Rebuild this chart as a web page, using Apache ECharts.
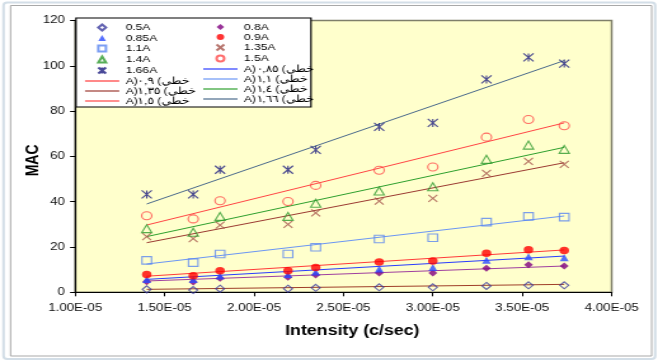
<!DOCTYPE html>
<html>
<head>
<meta charset="utf-8">
<script src="https://cdn.jsdelivr.net/npm/echarts@6/dist/echarts.min.js"></script>
<style>
  html, body { margin: 0; padding: 0; background: #fff; overflow: hidden; }
  #wrap { width: 658px; height: 362px; overflow: hidden; }
  /* the chart is laid out narrow and widened to the full frame */
  #chart { width: 518px; height: 362px; transform: scaleX(1.27027); transform-origin: 0 0; }
</style>
</head>
<body>
<div id="wrap"><div id="chart"></div></div>
<script>
// Intensity readings (c/sec) shared by every current setting
const intensity = [1.40e-5, 1.66e-5, 1.81e-5, 2.19e-5, 2.345e-5, 2.70e-5, 3.00e-5, 3.30e-5, 3.535e-5, 3.735e-5];

// MAC values per tube current
const mac05  = [1.3, 1.0, 1.6, 1.6, 2.0, 2.2, 2.2, 2.8, 3.1, 3.1];
const mac08  = [4.7, 4.6, 6.2, 6.6, 7.6, 8.5, 8.5, 10.6, 12.2, 11.6];
const mac085 = [5.7, 5.6, 7.2, 7.9, 9.0, 10.3, 10.9, 14.2, 15.7, 15.3];
const mac09  = [7.9, 7.3, 9.5, 9.5, 11.0, 13.4, 13.8, 17.2, 18.8, 18.5];
const mac11  = [14.1, 13.1, 16.9, 16.9, 19.9, 23.5, 24.1, 31.0, 33.5, 33.2];
const mac135 = [24.6, 23.7, 29.7, 30.0, 35.1, 40.3, 41.5, 52.5, 57.8, 56.5];
const mac14  = [28.1, 26.5, 33.5, 33.5, 39.3, 44.7, 46.6, 58.7, 65.0, 63.1];
const mac15  = [33.8, 32.4, 40.4, 40.1, 47.2, 53.9, 55.3, 68.5, 76.3, 73.5];
const mac166 = [43.2, 43.2, 54.1, 54.1, 62.9, 73.0, 74.8, 94.0, 103.7, 101.0];

// Linear trend lines: value at the first and last intensity
const trendX    = [1.40e-5, 3.735e-5];
const trend05   = [1.3, 3.5];
const trend08   = [5.0, 11.6];
const trend085  = [5.7, 16.0];
const trend09   = [7.1, 18.7];
const trend11   = [12.5, 33.7];
const trend135  = [21.9, 57.2];
const trend14   = [24.6, 64.0];
const trend15   = [29.7, 74.8];
const trend166  = [39.0, 102.3];

// Axis ranges
const xMin = 1.0e-5, xMax = 4.0e-5, xStep = 0.5e-5;
const yMin = 0, yMax = 120, yStep = 20;

const FONT = "'Liberation Sans', Arial, sans-serif";
const LRM = '\u200E';
// "Linear (x A)" label, laid out left to right as it reads on the chart
function linearLabel(digits) {
  return 'A)' + LRM + digits + LRM + ' (' + LRM + 'خطي';
}

const CROSS = 'path://M0,0L10,10M10,0L0,10';
const STAR = 'path://M5,0L5,10M0,0L10,10M10,0L0,10';
const DIAMOND = 'path://M5,0L10,5L5,10L0,5Z';
const TRIANGLE = 'path://M5,0L10,10L0,10Z';
const SQUARE = 'path://M0,0L10,0L10,10L0,10Z';
const LEGEND_LINE = 'path://M0,0L27,0L27,1.2L0,1.2Z';

const markerDefs = [
  { name: '0.5A',  values: mac05,  symbol: 'diamond',  icon: DIAMOND,  size: 7,   filled: false, color: '#3B3B9E' },
  { name: '0.8A',  values: mac08,  symbol: 'diamond',  icon: DIAMOND,  size: 7,   filled: true,  color: '#800080' },
  { name: '0.85A', values: mac085, symbol: 'triangle', icon: TRIANGLE, size: 7,   filled: true,  color: '#2A4BFF' },
  { name: '0.9A',  values: mac09,  symbol: 'circle',   icon: 'circle', size: 7.5, filled: true,  color: '#FF0000' },
  { name: '1.1A',  values: mac11,  symbol: 'rect',     icon: SQUARE,   size: 7.5, filled: false, color: '#5A86F0' },
  { name: '1.35A', values: mac135, symbol: CROSS,      icon: CROSS,    size: 7,   filled: false, color: '#A5524A' },
  { name: '1.4A',  values: mac14,  symbol: 'triangle', icon: TRIANGLE, size: 8,   filled: false, color: '#2E9A2E' },
  { name: '1.5A',  values: mac15,  symbol: 'circle',   icon: 'circle', size: 8,   filled: false, color: '#FF4848' },
  { name: '1.66A', values: mac166, symbol: STAR,       icon: STAR,     size: 8,   filled: false, color: '#1C1C80' }
];

const trendDefs = [
  { name: 'trend-0.5',        values: trend05,  color: '#A0402A' },
  { name: 'trend-0.8',        values: trend08,  color: '#A040A0' },
  { name: linearLabel('٠,٨٥'), values: trend085, color: '#2A3CFF' },
  { name: linearLabel('٠,٩'),  values: trend09,  color: '#FF3A3A' },
  { name: linearLabel('١,١'),  values: trend11,  color: '#6B96F5' },
  { name: linearLabel('١,٣٥'), values: trend135, color: '#9C3A32' },
  { name: linearLabel('١,٤'),  values: trend14,  color: '#2EA02E' },
  { name: linearLabel('١,٥'),  values: trend15,  color: '#FF4545' },
  { name: linearLabel('١,٦٦'), values: trend166, color: '#4B6A8C' }
];

const series = [];
trendDefs.forEach(t => {
  series.push({
    type: 'line',
    name: t.name,
    data: trendX.map((x, i) => [x, t.values[i]]),
    symbol: 'none',
    silent: true,
    z: 2,
    lineStyle: { color: t.color, width: 1 },
    itemStyle: { color: t.color }
  });
});
markerDefs.forEach(m => {
  series.push({
    type: 'scatter',
    name: m.name,
    data: intensity.map((x, i) => [x, m.values[i]]),
    symbol: m.symbol,
    symbolSize: m.size,
    z: 3,
    itemStyle: m.filled
      ? { color: m.color, borderWidth: 0 }
      : { color: 'none', borderColor: m.color, borderWidth: 1.1 }
  });
});

// legend entries: markers keep their shape, trend lines get a thin bar
function legendItems(names) {
  return names.map(n => {
    const m = markerDefs.find(d => d.name === n);
    return { name: n, icon: m ? m.icon : LEGEND_LINE };
  });
}

const legendText = { fontSize: 9.5, lineHeight: 10, color: '#000', fontFamily: FONT };
const legendCommon = {
  orient: 'vertical', padding: 0, itemGap: 0, itemWidth: 27, itemHeight: 6,
  symbolKeepAspect: true, selectedMode: false, textStyle: legendText, z: 10
};

const chart = echarts.init(document.getElementById('chart'), null, { renderer: 'canvas' });
chart.setOption({
  animation: false,
  backgroundColor: '#ffffff',
  grid: {
    left: 59.2, right: 36.5, top: 20.5, bottom: 69.7,
    show: true, backgroundColor: '#FFFFCC', borderColor: '#7F7F6A', borderWidth: 1.5
  },
  xAxis: {
    type: 'value', min: xMin, max: xMax, interval: xStep,
    splitLine: { show: false },
    axisLine: { show: true, onZero: false, lineStyle: { color: '#000', width: 1.2 } },
    axisTick: { show: true, inside: false, length: 4, lineStyle: { color: '#000' } },
    axisLabel: {
      margin: 10, fontSize: 10.5, color: '#111', fontFamily: FONT,
      formatter: v => (v * 1e5).toFixed(2) + 'E-05'
    },
    name: 'Intensity (c/sec)', nameLocation: 'middle', nameGap: 32, nameMoveOverlap: false,
    nameTextStyle: { fontWeight: 'bold', fontSize: 14, color: '#000', fontFamily: FONT, padding: [0, 0, 0, 14] }
  },
  yAxis: {
    type: 'value', min: yMin, max: yMax, interval: yStep,
    splitLine: { show: false },
    axisLine: { show: true, onZero: false, lineStyle: { color: '#000', width: 1.2 } },
    axisTick: { show: true, inside: false, length: 4, lineStyle: { color: '#000' } },
    axisLabel: { margin: 8, fontSize: 10.5, color: '#111', fontFamily: FONT },
    name: 'MAC', nameLocation: 'middle', nameGap: 25.7, nameMoveOverlap: false,
    nameTextStyle: { fontWeight: 'bold', fontSize: 14, color: '#000', fontFamily: FONT, padding: [0, 8, 0, 0] }
  },
  legend: [
    Object.assign({}, legendCommon, {
      left: 66.9, top: 22,
      data: legendItems(['0.5A', '0.85A', '1.1A', '1.4A', '1.66A',
             linearLabel('٠,٩'), linearLabel('١,٣٥'), linearLabel('١,٥')])
    }),
    Object.assign({}, legendCommon, {
      left: 160, top: 22,
      data: legendItems(['0.8A', '0.9A', '1.35A', '1.5A',
             linearLabel('٠,٨٥'), linearLabel('١,١'), linearLabel('١,٤'), linearLabel('١,٦٦')])
    })
  ],
  graphic: [
    // outer frame of the chart area
    { type: 'rect', silent: true, z: 0,
      shape: { x: 2.8, y: 2.5, width: 513, height: 356.5, r: 3 },
      style: { fill: 'none', stroke: '#D3DEE7', lineWidth: 2 } },
    { type: 'rect', silent: true, z: 0,
      shape: { x: 8.3, y: 5.5, width: 504.7, height: 350.5 },
      style: { fill: 'none', stroke: '#A9A9A9', lineWidth: 1 } },
    // legend box
    { type: 'rect', silent: true, z: 8,
      shape: { x: 59.8, y: 18, width: 185, height: 89 },
      style: { fill: '#ffffff', stroke: '#000000', lineWidth: 1.2 } }
  ],
  series: series
});
</script>
</body>
</html>
